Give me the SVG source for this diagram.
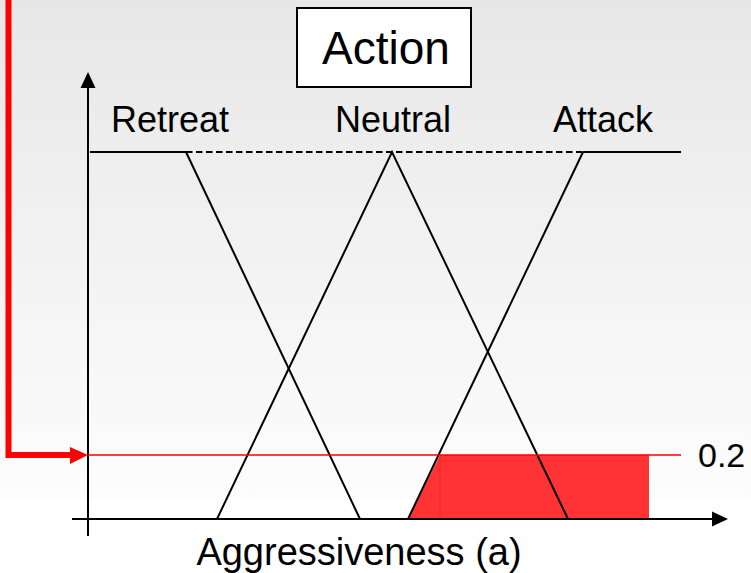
<svg xmlns="http://www.w3.org/2000/svg" width="751" height="573" viewBox="0 0 751 573">
  <defs>
    <linearGradient id="bg" x1="0" y1="0" x2="0" y2="573" gradientUnits="userSpaceOnUse">
      <stop offset="0" stop-color="#e7e7e7"/>
      <stop offset="0.87" stop-color="#fdfdfd"/>
      <stop offset="0.875" stop-color="#ffffff"/>
      <stop offset="1" stop-color="#ffffff"/>
    </linearGradient>
  </defs>
  <style>
    .lbl { font-family: "Liberation Sans", Arial, sans-serif; fill: #000; }
    .mf { stroke: #000; stroke-width: 2; fill: none; }
    .axis { stroke: #000; stroke-width: 2; fill: none; }
  </style>

  <!-- background -->
  <rect x="0" y="0" width="751" height="573" fill="url(#bg)"/>

  <!-- clipped output region (cut at 0.2) -->
  <g id="output-area">
    <polygon points="408,519 440,455 649,455 649,519" fill="#ff3333"/>
    <line x1="440" y1="455" x2="440" y2="519" stroke="#e52a2a" stroke-width="1"/>
    <line x1="408" y1="519" x2="649" y2="519" stroke="#e52a2a" stroke-width="1"/>
  </g>

  <!-- axes -->
  <g id="axes">
    <line class="axis" x1="88" y1="86" x2="88" y2="536"/>
    <polygon points="88,72 80.5,88 95.5,88" fill="#000"/>
    <line class="axis" x1="72" y1="519" x2="715" y2="519"/>
    <polygon points="728,519 712,511.5 712,526.5" fill="#000"/>
  </g>

  <!-- membership functions -->
  <g id="membership">
    <line class="mf" x1="90" y1="152" x2="186" y2="152"/>
    <line class="mf" x1="186" y1="152" x2="583" y2="152" stroke-dasharray="6.5 3.5"/>
    <line class="mf" x1="583" y1="152" x2="681" y2="152"/>
    <g id="retreat"><line class="mf" x1="186" y1="152" x2="360" y2="519"/></g>
    <g id="neutral"><polyline class="mf" points="217,519 392,152 568,519"/></g>
    <g id="attack"><line class="mf" x1="408" y1="519" x2="583" y2="152"/></g>
  </g>

  <!-- 0.2 cut line -->
  <g id="cut-level">
    <line x1="88" y1="455" x2="681" y2="455" stroke="#ff0000" stroke-width="1.5"/>
    <text class="lbl" x="698" y="467" font-size="34">0.2</text>
  </g>

  <!-- incoming firing strength -->
  <g id="connectors">
    <polyline points="8.5,0 8.5,455 72,455" fill="none" stroke="#ff0000" stroke-width="6" stroke-linejoin="miter"/>
    <polygon points="70,447 88,455 70,464" fill="#ff0000"/>
  </g>

  <!-- labels -->
  <g id="title">
    <rect x="297" y="8" width="174" height="79" fill="#ffffff" stroke="#000" stroke-width="2"/>
    <text class="lbl" x="386" y="64" font-size="46" text-anchor="middle">Action</text>
  </g>
  <g id="set-labels">
    <text class="lbl" x="170" y="132" font-size="36" text-anchor="middle">Retreat</text>
    <text class="lbl" x="393" y="132" font-size="36" text-anchor="middle">Neutral</text>
    <text class="lbl" x="603" y="132" font-size="36" text-anchor="middle">Attack</text>
  </g>
  <g id="x-label">
    <text class="lbl" x="359" y="565" font-size="38" text-anchor="middle">Aggressiveness (a)</text>
  </g>
</svg>
